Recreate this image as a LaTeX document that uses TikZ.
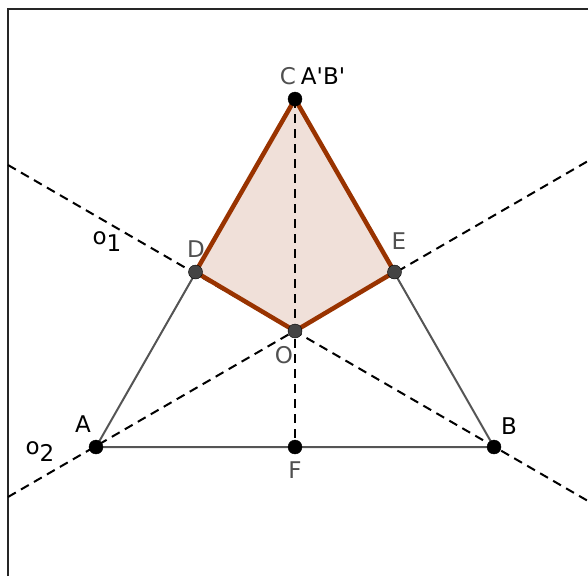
\documentclass[tikz,border=0pt]{standalone}
\usepackage{fontspec}
\setmainfont{DejaVu Sans}
\usepackage{xcolor}
\definecolor{rust}{RGB}{153,51,0}
\definecolor{ptgray}{RGB}{68,68,68}
\definecolor{lblgray}{RGB}{80,80,80}
\definecolor{sidegray}{RGB}{85,85,85}
\tikzset{
  pt/.style={circle,draw=black,fill=black,inner sep=0pt,minimum size=14pt},
  gpt/.style={pt,fill=ptgray},
  lbl/.style={inner sep=0.75pt,font=\fontsize{23}{27}\selectfont},
  glbl/.style={lbl,text=lblgray},
  axis/.style={dash pattern=on 9pt off 6pt,line width=2pt},
  side/.style={sidegray,line width=2pt}
}
\begin{document}
\begin{tikzpicture}[x=1pt,y=1pt,yscale=-1,xscale=1]
				\useasboundingbox (0,0) rectangle (588,576);
				% frame
				\draw[line width=1.2pt,black!85] (8,576) -- (8,9) -- (588,9);
				% points
				\coordinate (A) at (96,447);
				\coordinate (B) at (494,447);
				\coordinate (C) at (295,99);
				\coordinate (D) at (195.5,272);
				\coordinate (E) at (394.5,272);
				\coordinate (O) at (295,331);
				\coordinate (F) at (295,447);
				\coordinate (o1a) at (8,165);
				\coordinate (o1b) at (588,501);
				\coordinate (o2a) at (8,497);
				\coordinate (o2b) at (588,161);
				% kite
				\fill[rust!15] (C) -- (E) -- (O) -- (D) -- cycle;
				% triangle
				\draw[side] (A) -- (B) -- (C) -- cycle;
				% axes
				\draw[axis] (o1a) -- (o1b);
				\draw[axis] (o2a) -- (o2b);
				\draw[axis] (C) -- (F);
				\draw[rust,line width=4.5pt,line join=round] (C) -- (E) -- (O) -- (D) -- cycle;
				\node[pt] (pA) at (A) {};
				\node[pt] (pB) at (B) {};
				\node[pt] (pC) at (C) {};
				\node[pt] (pF) at (F) {};
				\node[gpt] (pD) at (D) {};
				\node[gpt] (pE) at (E) {};
				\node[gpt] (pO) at (O) {};
				% labels
				\node[glbl] (lC) at (288,76) {C};
				\node[lbl,anchor=west] (lAB) at (300,76) {A\textquotesingle B\textquotesingle};
				\node[glbl] (lD) at (196,249) {D};
				\node[glbl] (lE) at (399,241) {E};
				\node[glbl] (lO) at (284,355) {O};
				\node[glbl] (lF) at (295,470) {F};
				\node[lbl] (lA) at (83,424) {A};
				\node[lbl] (lB) at (509,426) {B};
				\node[lbl] (lo1) at (107,242) {o\raisebox{-0.55ex}{1}};
				\node[lbl] (lo2) at (40,452) {o\raisebox{-0.55ex}{2}};
			\end{tikzpicture}
\end{document}
